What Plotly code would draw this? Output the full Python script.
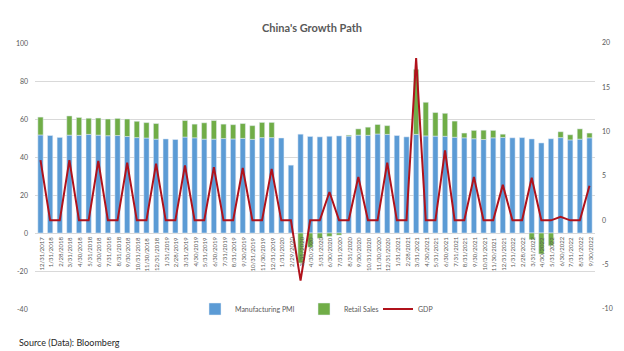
import plotly.graph_objects as go

dates = [
    "12/31/2017",
    "1/31/2018", "2/28/2018", "3/31/2018", "4/30/2018", "5/31/2018", "6/30/2018",
    "7/31/2018", "8/31/2018", "9/30/2018", "10/31/2018", "11/30/2018", "12/31/2018",
    "1/31/2019", "2/28/2019", "3/31/2019", "4/30/2019", "5/31/2019", "6/30/2019",
    "7/31/2019", "8/31/2019", "9/30/2019", "10/31/2019", "11/30/2019", "12/31/2019",
    "1/31/2020", "2/29/2020", "3/31/2020", "4/30/2020", "5/31/2020", "6/30/2020",
    "7/31/2020", "8/31/2020", "9/30/2020", "10/31/2020", "11/30/2020", "12/31/2020",
    "1/31/2021", "2/28/2021", "3/31/2021", "4/30/2021", "5/31/2021", "6/30/2021",
    "7/31/2021", "8/31/2021", "9/30/2021", "10/31/2021", "11/30/2021", "12/31/2021",
    "1/31/2022", "2/28/2022", "3/31/2022", "4/30/2022", "5/31/2022", "6/30/2022",
    "7/31/2022", "8/31/2022", "9/30/2022",
]

manufacturing_pmi = [
    51.6,
    51.3, 50.3, 51.5, 51.4, 51.9, 51.5, 51.2, 51.3, 50.8, 50.2, 50.0, 49.4,
    49.5, 49.2, 50.5, 50.1, 49.4, 49.4, 49.7, 49.5, 49.8, 49.3, 50.2, 50.2,
    50.0, 35.7, 52.0, 50.8, 50.6, 50.9, 51.1, 51.0, 51.5, 51.4, 52.1, 51.9,
    51.3, 50.6, 51.9, 51.1, 51.0, 50.9, 50.4, 50.1, 49.6, 49.2, 50.1, 50.3,
    50.1, 50.2, 49.5, 47.4, 49.6, 50.2, 49.0, 49.4, 50.1,
]

retail_sales = [
    9.4,
    None, None, 10.1, 9.4, 8.5, 9.0, 8.8, 9.0, 9.2, 8.6, 8.1, 8.2,
    None, None, 8.7, 7.2, 8.6, 9.8, 7.6, 7.5, 7.8, 7.2, 8.0, 8.0,
    None, None, -15.8, -7.5, -2.8, -1.8, -1.1, 0.5, 3.3, 4.3, 5.0, 4.6,
    None, None, 34.2, 17.7, 12.4, 12.1, 8.5, 2.5, 4.4, 4.9, 3.9, 1.7,
    None, None, -3.5, -11.1, -6.7, 3.1, 2.7, 5.4, 2.5,
]

gdp = [
    6.8,
    0, 0, 6.8, 0, 0, 6.7, 0, 0, 6.5, 0, 0, 6.4,
    0, 0, 6.2, 0, 0, 6.0, 0, 0, 5.9, 0, 0, 5.8,
    0, 0, -6.8, 0, 0, 3.2, 0, 0, 4.9, 0, 0, 6.5,
    0, 0, 18.3, 0, 0, 7.9, 0, 0, 4.9, 0, 0, 4.0,
    0, 0, 4.8, 0, 0, 0.4, 0, 0, 3.9,
]

left_ticks = [-40, -20, 0, 20, 40, 60, 80, 100]
right_ticks = [-10, -5, 0, 5, 10, 15, 20]

FONT = "Lato"
GREY = "#595959"
ML, MR, MT, MB = 35, 29, 43, 42
PW, PH = 624 - ML - MR, 351 - MT - MB


def px_x(px):
    return (px - ML) / PW


def px_y(py):
    return (351 - MB - py) / PH


fig = go.Figure()
fig.add_trace(go.Bar(x=dates, y=manufacturing_pmi, name="Manufacturing PMI",
                     marker_color="#5B9BD5", legend="legend"))
fig.add_trace(go.Bar(x=dates, y=retail_sales, name="Retail Sales",
                     marker_color="#70AD47", legend="legend2"))
fig.add_trace(go.Scatter(x=dates, y=gdp, name="GDP", mode="lines",
                         line=dict(color="#B0121B", width=2), yaxis="y2",
                         legend="legend3"))

leg_common = dict(orientation="h", xref="paper", yref="paper",
                  yanchor="middle", xanchor="left", y=px_y(309),
                  font=dict(family=FONT, size=7, color=GREY),
                  bgcolor="rgba(0,0,0,0)", itemwidth=30)

# category labels drawn next to the zero line (as in the original chart)
date_labels = [dict(x=d, y=0, xref="x", yref="y", text=d, textangle=-90,
                    xanchor="center", yanchor="top", yshift=-2, showarrow=False,
                    font=dict(family=FONT, size=6, color=GREY))
               for d in dates]

# left value-axis labels
left_labels = [dict(x=0, y=v, xref="paper", yref="y", text=str(v),
                    xanchor="right", yanchor="middle", xshift=-5, showarrow=False,
                    font=dict(family=FONT, size=7, color=GREY))
               for v in left_ticks]

source_note = dict(text="Source (Data): Bloomberg", xref="paper", yref="paper",
                   x=px_x(17), y=px_y(342), xanchor="left",
                   yanchor="middle", showarrow=False,
                   font=dict(family=FONT, size=9, color="#262626"))

fig.update_layout(
    width=624, height=351,
    margin=dict(l=ML, r=MR, t=MT, b=MB, autoexpand=False),
    paper_bgcolor="white", plot_bgcolor="white",
    barmode="relative", bargap=0.45,
    font=dict(family=FONT, color=GREY),
    showlegend=True,
    title=dict(text="<b>China's Growth Path</b>", xref="container", yref="container",
               x=0.5, y=1 - 28 / 351, xanchor="center", yanchor="middle",
               font=dict(family=FONT, size=11, color=GREY)),
    xaxis=dict(type="category", showticklabels=False, showgrid=False,
               showline=False, ticks="", automargin=False),
    yaxis=dict(range=[-40, 100], tickmode="array", tickvals=left_ticks,
               showticklabels=False,
               showgrid=True, gridcolor="#D9D9D9",
               gridwidth=1, zeroline=False, automargin=False),
    yaxis2=dict(range=[-10, 20], tickmode="array", tickvals=right_ticks,
                ticktext=[str(v) for v in right_ticks],
                overlaying="y", side="right", showgrid=False,
                zeroline=False, automargin=False, ticklabelstandoff=6,
                tickfont=dict(family=FONT, size=7, color=GREY)),
    legend=dict(leg_common, x=px_x(195)),
    legend2=dict(leg_common, x=px_x(304)),
    legend3=dict(leg_common, x=px_x(378)),
    annotations=date_labels + left_labels + [source_note],
)

fig.write_html("out.html")
